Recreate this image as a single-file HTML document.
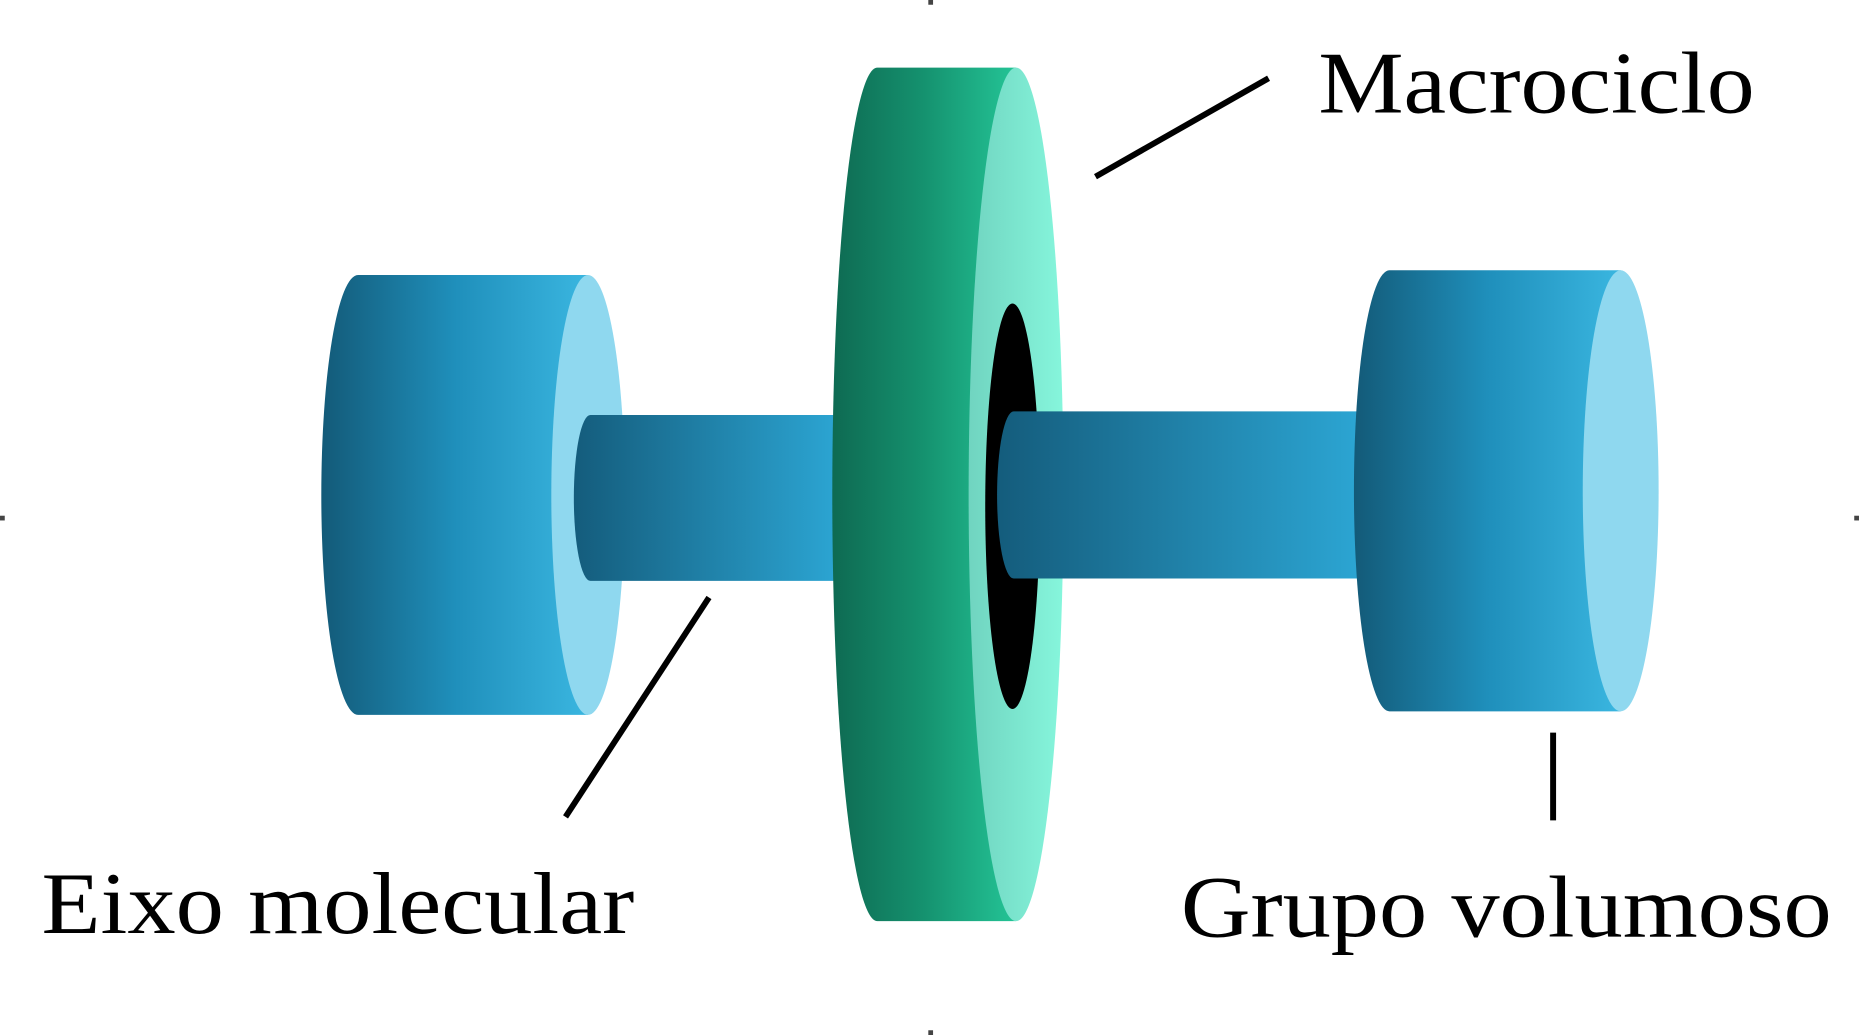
<!DOCTYPE html>
<html><head><meta charset="utf-8"><style>
html,body{margin:0;padding:0;background:#fff;width:1859px;height:1035px;overflow:hidden}
svg{display:block}
text{font-family:"Liberation Serif",serif;fill:#000}
</style></head><body>
<svg width="1859" height="1035" viewBox="0 0 1568 873" xmlns="http://www.w3.org/2000/svg">
<defs>
<linearGradient id="cyl" x1="0" x2="1" y1="0" y2="0"><stop offset="0" stop-color="#135a78"/><stop offset="0.5" stop-color="#1f8fbb"/><stop offset="1" stop-color="#3ab6e0"/></linearGradient>
<linearGradient id="ax" x1="0" x2="1" y1="0" y2="0"><stop offset="0" stop-color="#145c7c"/><stop offset="1" stop-color="#2ca6d4"/></linearGradient>
<linearGradient id="ring" x1="0" x2="1" y1="0" y2="0"><stop offset="0" stop-color="#0e6a52"/><stop offset="0.5" stop-color="#15926f"/><stop offset="1" stop-color="#24c496"/></linearGradient>
<linearGradient id="face" x1="0" x2="1" y1="0" y2="0"><stop offset="0" stop-color="#70d4c0"/><stop offset="1" stop-color="#86f6dc"/></linearGradient>
</defs>
<path d="M302,232 H496 V603 H302 A31,185.5 0 0 1 302,232 Z" fill="url(#cyl)"/>
<ellipse cx="496" cy="417.5" rx="31" ry="185.5" fill="#8fd8ef"/>
<path d="M498,350 H710 V490 H498 A14,70 0 0 1 498,350 Z" fill="url(#ax)"/>
<path d="M740,57 H857 V777 H740 A38,360 0 0 1 740,57 Z" fill="url(#ring)"/>
<ellipse cx="857" cy="417" rx="40" ry="360" fill="url(#face)"/>
<ellipse cx="854" cy="427" rx="23" ry="171" fill="#000"/>
<path d="M855,347 H1150 V488 H855 A14,70.5 0 0 1 855,347 Z" fill="url(#ax)"/>
<path d="M1172,228 H1367 V600 H1172 A30,186 0 0 1 1172,228 Z" fill="url(#cyl)"/>
<ellipse cx="1367" cy="414" rx="32" ry="186" fill="#8fd8ef"/>
<line x1="924" y1="149" x2="1070" y2="66" stroke="#000" stroke-width="5"/>
<line x1="598" y1="504" x2="477" y2="689" stroke="#000" stroke-width="5"/>
<line x1="1310" y1="618" x2="1310" y2="692" stroke="#000" stroke-width="5"/>
<rect x="783" y="0" width="4" height="4" fill="#444"/>
<rect x="783" y="869" width="4" height="4" fill="#444"/>
<rect x="0" y="435" width="4" height="4" fill="#444"/>
<rect x="1564" y="435" width="4" height="4" fill="#444"/>
<text x="1112" y="95" font-size="74" textLength="368" lengthAdjust="spacingAndGlyphs">Macrociclo</text>
<text x="35" y="787" font-size="74" textLength="500" lengthAdjust="spacingAndGlyphs">Eixo molecular</text>
<text x="996" y="790" font-size="74" textLength="549" lengthAdjust="spacingAndGlyphs">Grupo volumoso</text>
</svg>
</body></html>
